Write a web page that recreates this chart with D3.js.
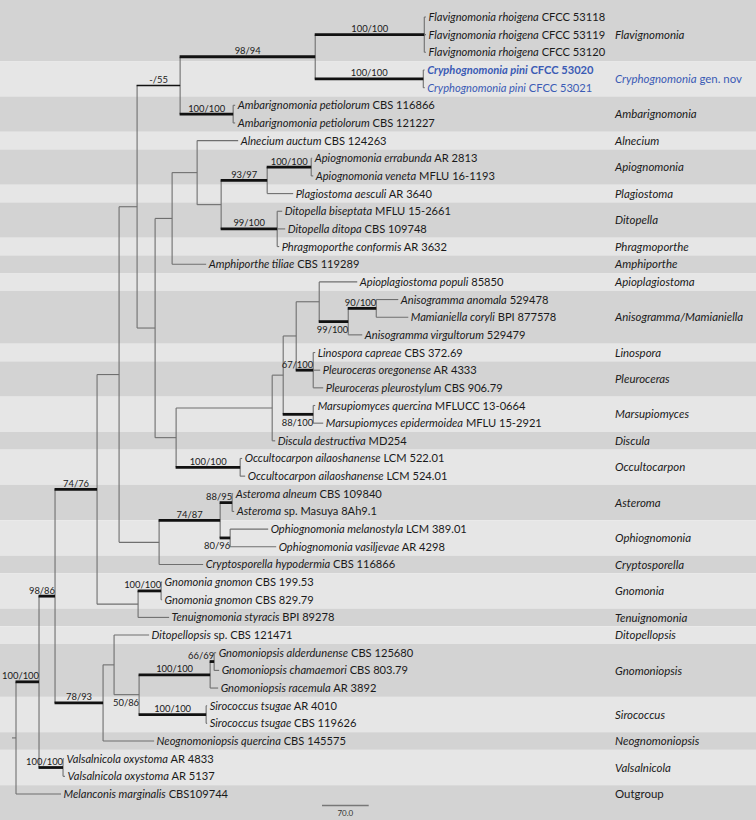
<!DOCTYPE html>
<html><head><meta charset="utf-8">
<script src="https://cdn.jsdelivr.net/npm/d3@7"></script>
<style>body{margin:0;background:#fff}svg{display:block}</style>
</head><body><svg id="c" width="756" height="820"></svg>
<script>
// [id, parent, branch length (scale units), support]
const branches = [
 ["root","",0,""],
 ["A","root",34.5,"100/100"],
 ["B","A",24,"98/86"],
 ["C","B",63,"74/76"],
 ["D","C",33,""],
 ["E","D",27,""],
 ["F","E",64.5,"-/55"],
 ["G","F",202.5,"98/94"],
 ["Fla","G",163.5,"100/100"],
 ["t01","Fla",2.5,""],["t02","Fla",2.5,""],["t03","Fla",2.5,""],
 ["Cry","G",162,"100/100"],
 ["t04","Cry",2,""],["t05","Cry",2,""],
 ["Amb","F",79.5,"100/100"],
 ["t06","Amb",3,""],["t07","Amb",3,""],
 ["H","E",27,""],
 ["I","H",25.5,""],
 ["J","I",37.5,""],
 ["t08","J",61.5,""],
 ["K","J",36,""],
 ["L","K",69,"93/97"],
 ["M","L",66,"100/100"],
 ["t09","M",1.5,""],["t10","M",3,""],
 ["t11","L",39,""],
 ["N","K",84,"99/100"],
 ["t12","N",7.5,""],["t13","N",12,""],["t14","N",3,""],
 ["t15","I",51,""],
 ["O","H",31.5,""],
 ["P","O",144,""],
 ["Q","P",16.5,""],
 ["R","Q",19.5,""],
 ["S","R",34.5,""],
 ["t16","S",57,""],
 ["T","S",43.5,"99/100"],
 ["U","T",42,"90/100"],
 ["t17","U",33,""],["t18","U",48,""],
 ["t19","T",21,""],
 ["V","R",25.5,"67/100"],
 ["t20","V",3,""],["t21","V",10.5,""],["t22","V",15,""],
 ["W","Q",45,"88/100"],
 ["t23","W",3,""],["t24","W",15,""],
 ["t25","P",4.5,""],
 ["X","O",96,"100/100"],
 ["t26","X",3,""],["t27","X",7.5,""],
 ["Y","D",60,""],
 ["Z","Y",91.5,"74/87"],
 ["AA","Z",18,"88/95"],
 ["t28","AA",1.5,""],["t29","AA",3,""],
 ["AB","Z",15,"80/96"],
 ["t30","AB",57,""],["t31","AB",69,""],
 ["t32","Y",66,""],
 ["AC","C",61.5,""],
 ["AD","AC",34.5,"100/100"],
 ["t33","AD",1.5,""],["t34","AD",1.5,""],
 ["t35","AC",46.5,""],
 ["AE","B",72,"78/93"],
 ["AF","AE",16.5,""],
 ["t36","AF",52.5,""],
 ["AG","AF",37.5,"50/86"],
 ["AH","AG",106.5,"100/100"],
 ["AI","AH",6,"66/69"],
 ["t37","AI",3,""],["t38","AI",7.5,""],
 ["t39","AH",12,""],
 ["AJ","AG",100.5,"100/100"],
 ["t40","AJ",1.5,""],["t41","AJ",1.5,""],
 ["t42","AE",76.5,""],
 ["AK","A",36,"100/100"],
 ["t43","AK",1.5,""],["t44","AK",3,""],
 ["t45","root",67.5,""]
];

const taxonItalic = [
 "Flavignomonia rhoigena","Flavignomonia rhoigena","Flavignomonia rhoigena",
 "Cryphognomonia pini","Cryphognomonia pini",
 "Ambarignomonia petiolorum","Ambarignomonia petiolorum",
 "Alnecium auctum","Apiognomonia errabunda","Apiognomonia veneta","Plagiostoma aesculi",
 "Ditopella biseptata","Ditopella ditopa","Phragmoporthe conformis","Amphiporthe tiliae",
 "Apioplagiostoma populi","Anisogramma anomala","Mamianiella coryli","Anisogramma virgultorum",
 "Linospora capreae","Pleuroceras oregonense","Pleuroceras pleurostylum",
 "Marsupiomyces quercina","Marsupiomyces epidermoidea","Discula destructiva",
 "Occultocarpon ailaoshanense","Occultocarpon ailaoshanense",
 "Asteroma alneum","Asteroma","Ophiognomonia melanostyla","Ophiognomonia vasiljevae",
 "Cryptosporella hypodermia","Gnomonia gnomon","Gnomonia gnomon","Tenuignomonia styracis",
 "Ditopellopsis","Gnomoniopsis alderdunense","Gnomoniopsis chamaemori","Gnomoniopsis racemula",
 "Sirococcus tsugae","Sirococcus tsugae","Neognomoniopsis quercina",
 "Valsalnicola oxystoma","Valsalnicola oxystoma","Melanconis marginalis"
];
const taxonStrain = [
 "CFCC 53118","CFCC 53119","CFCC 53120","CFCC 53020","CFCC 53021","CBS 116866","CBS 121227",
 "CBS 124263","AR 2813","MFLU 16-1193","AR 3640","MFLU 15-2661","CBS 109748","AR 3632",
 "CBS 119289","85850","529478","BPI 877578","529479","CBS 372.69","AR 4333","CBS 906.79",
 "MFLUCC 13-0664","MFLU 15-2921","MD254","LCM 522.01","LCM 524.01","CBS 109840",
 "sp. Masuya 8Ah9.1","LCM 389.01","AR 4298","CBS 116866","CBS 199.53","CBS 829.79",
 "BPI 89278","sp. CBS 121471","CBS 125680","CBS 803.79","AR 3892","AR 4010","CBS 119626",
 "CBS 145575","AR 4833","AR 5137","CBS109744"
];
const newTaxa = [3, 4];      // highlighted strains (new genus)
const boldTaxa = [3];

const cladeNames = ["Flavignomonia","Cryphognomonia","Ambarignomonia","Alnecium","Apiognomonia",
 "Plagiostoma","Ditopella","Phragmoporthe","Amphiporthe","Apioplagiostoma","Anisogramma/Mamianiella",
 "Linospora","Pleuroceras","Marsupiomyces","Discula","Occultocarpon","Asteroma","Ophiognomonia",
 "Cryptosporella","Gnomonia","Tenuignomonia","Ditopellopsis","Gnomoniopsis","Sirococcus",
 "Neognomoniopsis","Valsalnicola","Outgroup"];
const cladeSizes = [3,2,2,1,2,1,2,1,1,1,3,1,2,2,1,2,2,2,1,2,1,1,3,2,1,2,1];
const cladeSuffix = {"Cryphognomonia":" gen. nov"};
const cladeRoman = ["Outgroup"];

const scaleBarValue = 70.0;

// ---------- drawing ----------
const W = 756, H = 820;
const svg = d3.select("#c");
const BLUE = "#3b5bb5";
const FONT = "Lato, 'Open Sans', sans-serif";

// fit font size so a sample string matches the reference width
function fitSize(buildFn, base, target) {
  const t = svg.append("text").attr("font-family", FONT).attr("font-size", base).attr("x", -1000).attr("y", -1000);
  buildFn(t);
  const w = t.node().getComputedTextLength();
  t.remove();
  return base * target / w;
}
const leafSize = fitSize(t => {
  t.append("tspan").attr("font-style", "italic").text("Flavignomonia rhoigena");
  t.append("tspan").text(" CFCC 53118");
}, 12, 177);
const supSize = fitSize(t => t.text("100/100"), 12, 37);
const cladeSize = fitSize(t => {
  t.append("tspan").attr("font-style", "italic").text("Cryphognomonia");
  t.append("tspan").text(" gen. nov");
}, 12, 127);

const root = d3.stratify().id(d => d[0]).parentId(d => d[1] || null)(branches);
root.each(d => { d.len = d.data[2]; d.depthLen = d.parent ? d.parent.depthLen + d.len : 0; });
const leaves = root.leaves();
const nLeaves = leaves.length;

const x = d3.scaleLinear().domain([0, 70]).range([16, 16 + 46.7]);
const y = d3.scaleLinear().domain([0, nLeaves - 1]).range([17, 794]);
const step = y(1) - y(0);

leaves.forEach((d, i) => { d.idx = i; d.py = y(i); });
root.eachAfter(d => {
  if (d.children) d.py = (d.children[0].py + d.children[d.children.length - 1].py) / 2;
  d.px = x(d.depthLen);
});

// background bands
let start = 0;
const bands = cladeNames.map((name, i) => {
  const b = {name, first: start, last: start + cladeSizes[i] - 1, i};
  start += cladeSizes[i];
  return b;
});
const bandTop = d => d.first === 0 ? 0 : y(d.first) - step / 2;
const bandBot = d => d.last === nLeaves - 1 ? H : y(d.last) + step / 2;
svg.insert("g", ":first-child").selectAll("rect").data(bands).join("rect")
  .attr("x", 0).attr("width", W)
  .attr("y", bandTop)
  .attr("height", d => bandBot(d) - bandTop(d))
  .attr("fill", d => d.i % 2 === 0 ? "#d3d3d3" : "#e6e6e6");

const gTree = svg.append("g");
const THIN = "#6f6f6f";
function weight(s) {
  if (!s) return "thin";
  const a = parseFloat(s.split("/")[0]);
  if (isNaN(a)) return "mid";
  return a >= 60 ? "thick" : "thin";
}
// vertical connectors
root.descendants().filter(d => d.children).forEach(d => {
  gTree.append("line")
    .attr("x1", d.px).attr("x2", d.px)
    .attr("y1", d.children[0].py).attr("y2", d.children[d.children.length - 1].py)
    .attr("stroke", THIN).attr("stroke-width", 1.1);
});
// horizontal branches
root.descendants().filter(d => d.parent).forEach(d => {
  const w = weight(d.data[3]);
  gTree.append("line")
    .attr("x1", d.parent.px - (w === "thin" ? 0 : 0.5)).attr("x2", d.px)
    .attr("y1", d.py).attr("y2", d.py)
    .attr("stroke", w === "thin" ? THIN : "#111")
    .attr("stroke-width", w === "thick" ? 2.8 : w === "mid" ? 1.5 : 1.1);
});
// root stub
gTree.append("line").attr("x1", root.px - 4).attr("x2", root.px)
  .attr("y1", root.py).attr("y2", root.py).attr("stroke", THIN).attr("stroke-width", 1.1);

// support labels
const below = ["T", "W", "AB", "AG"];
root.descendants().filter(d => d.parent && d.data[3]).forEach(d => {
  const isBelow = below.includes(d.data[0]);
  const t = gTree.append("text").text(d.data[3])
    .attr("font-family", FONT).attr("font-size", supSize).attr("fill", "#1a1a1a")
    .attr("y", isBelow ? d.py + 11.5 : d.py - 2.5);
  const w = t.node().getComputedTextLength();
  const len = d.px - d.parent.px;
  if (w <= len) t.attr("x", (d.px + d.parent.px) / 2).attr("text-anchor", "middle");
  else t.attr("x", Math.max(d.px, w)).attr("text-anchor", "end");
});

// leaf labels
const gLab = svg.append("g").attr("font-family", FONT).attr("font-size", leafSize);
leaves.forEach((d, i) => {
  const isNew = newTaxa.includes(i), isBold = boldTaxa.includes(i);
  const t = gLab.append("text").attr("x", d.px + 2.5).attr("y", d.py).attr("dy", "0.36em")
    .attr("fill", isNew ? BLUE : "#1a1a1a").attr("font-weight", isBold ? "bold" : null);
  t.append("tspan").attr("font-style", "italic").text(taxonItalic[i]);
  t.append("tspan").text(" " + taxonStrain[i]);
});

// clade labels
const gClade = svg.append("g").attr("font-family", FONT).attr("font-size", cladeSize);
bands.forEach(b => {
  const cy = (y(b.first) + y(b.last)) / 2;
  const isNew = !!cladeSuffix[b.name];
  const t = gClade.append("text").attr("x", 615).attr("y", cy).attr("dy", "0.36em")
    .attr("fill", isNew ? BLUE : "#1a1a1a");
  t.append("tspan").attr("font-style", cladeRoman.includes(b.name) ? null : "italic").text(b.name);
  if (isNew) t.append("tspan").text(cladeSuffix[b.name]);
});

// scale bar
const sbX = 322;
const sbLen = x(scaleBarValue) - x(0);
svg.append("line").attr("x1", sbX).attr("x2", sbX + sbLen).attr("y1", 805.5).attr("y2", 805.5)
  .attr("stroke", "#777").attr("stroke-width", 1.3);
svg.append("text").attr("x", sbX + sbLen / 2).attr("y", 816).attr("text-anchor", "middle")
  .attr("font-family", FONT).attr("font-size", 8).attr("fill", "#333").text(scaleBarValue.toFixed(1));
</script>
</body></html>
